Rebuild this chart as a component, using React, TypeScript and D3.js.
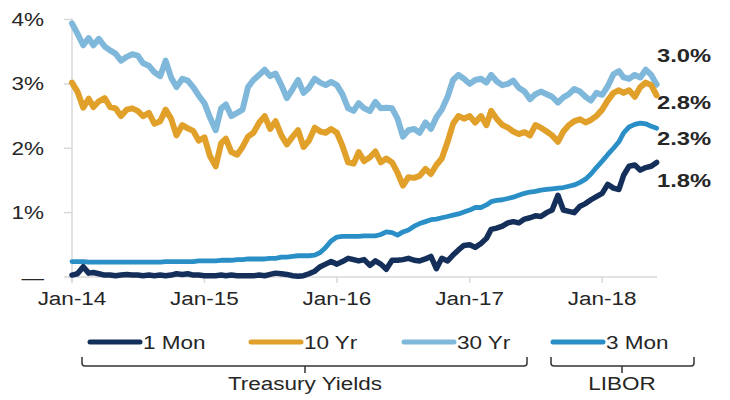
import * as d3 from "d3";

const W = 730;
const H = 400;
const M = { left: 72, right: 657, top: 19.5, bottom: 277 };
const FONT = "'Liberation Sans', Arial, sans-serif";
const STRETCH = 1.25; // source picture is stretched horizontally
const INK = "#262626";

// semi-monthly grid: 1st and 16th of every month, last point end of May 2018
const dates: Date[] = [];
for (let m = 0; m < 53; m++) {
  dates.push(new Date(2014, m, 1), new Date(2014, m, 16));
}
dates.push(new Date(2018, 4, 31));

const yr30 = [
  3.94, 3.78, 3.6, 3.71, 3.6, 3.7, 3.58, 3.52, 3.47, 3.36,
  3.42, 3.46, 3.44, 3.32, 3.28, 3.18, 3.12, 3.36, 3.1, 2.95,
  3.08, 3.05, 2.95, 2.82, 2.7, 2.48, 2.28, 2.62, 2.68, 2.5,
  2.55, 2.6, 2.95, 3.06, 3.14, 3.22, 3.12, 3.16, 2.98, 2.78,
  2.92, 3.06, 2.86, 2.94, 3.08, 3.02, 2.98, 3.03, 2.98, 2.84,
  2.62, 2.58, 2.7, 2.62, 2.58, 2.72, 2.62, 2.63, 2.62, 2.46,
  2.18, 2.28, 2.3, 2.24, 2.4, 2.3, 2.48, 2.6, 2.8, 3.06,
  3.14, 3.08, 3.0, 3.06, 3.08, 3.02, 3.14, 3.04, 2.98, 3.0,
  3.05, 2.94, 2.88, 2.76, 2.84, 2.88, 2.84, 2.8, 2.71, 2.79,
  2.84, 2.92, 2.88, 2.8, 2.74, 2.86, 2.83, 2.96, 3.15, 3.2,
  3.1, 3.08, 3.14, 3.1, 3.22, 3.14, 2.99,
];

const yr10 = [
  3.02, 2.88, 2.63, 2.77, 2.64, 2.73, 2.78, 2.64, 2.62, 2.5,
  2.6, 2.62, 2.58, 2.5, 2.55, 2.38, 2.42, 2.6, 2.46, 2.2,
  2.36, 2.31, 2.27, 2.12, 2.17, 1.88, 1.72, 2.08, 2.15, 1.94,
  1.9, 2.02, 2.18, 2.24, 2.4, 2.5, 2.3, 2.42, 2.2, 2.06,
  2.18, 2.28, 2.02, 2.12, 2.32, 2.26, 2.24, 2.3, 2.24, 2.04,
  1.78, 1.76, 1.94, 1.8, 1.86, 1.95, 1.78, 1.84, 1.78, 1.62,
  1.42, 1.55, 1.54, 1.57, 1.68, 1.6, 1.74, 1.84, 2.1, 2.38,
  2.5, 2.46, 2.5, 2.4, 2.5, 2.36, 2.58, 2.46, 2.36, 2.32,
  2.26, 2.22, 2.25, 2.2, 2.36, 2.32, 2.26, 2.2, 2.1, 2.26,
  2.36, 2.42, 2.45, 2.4, 2.44, 2.5, 2.6, 2.74, 2.86, 2.9,
  2.86, 2.9, 2.8, 2.95, 3.02, 2.98, 2.82,
];

const libor3m = [
  0.24, 0.24, 0.24, 0.23, 0.23, 0.23, 0.23, 0.23, 0.23, 0.23,
  0.23, 0.23, 0.23, 0.23, 0.23, 0.23, 0.23, 0.24, 0.24, 0.24,
  0.24, 0.24, 0.24, 0.25, 0.25, 0.25, 0.25, 0.26, 0.26, 0.26,
  0.27, 0.27, 0.28, 0.28, 0.28, 0.28, 0.29, 0.29, 0.31, 0.31,
  0.32, 0.33, 0.33, 0.33, 0.34, 0.38, 0.46, 0.56, 0.62, 0.63,
  0.63, 0.63, 0.63, 0.64, 0.64, 0.64, 0.66, 0.7, 0.69, 0.65,
  0.7, 0.73, 0.79, 0.83, 0.86, 0.89, 0.9, 0.92, 0.94, 0.96,
  0.98, 1.01, 1.04, 1.08, 1.08, 1.12, 1.17, 1.19, 1.2, 1.22,
  1.24, 1.27, 1.3, 1.32, 1.33, 1.35, 1.36, 1.37, 1.38, 1.39,
  1.41, 1.43, 1.47, 1.52, 1.6, 1.7, 1.8, 1.9, 2.0, 2.1,
  2.24, 2.33, 2.37, 2.39, 2.38, 2.34, 2.31,
];

const mon1 = [
  0.03, 0.05, 0.16, 0.06, 0.07, 0.05, 0.03, 0.03, 0.02, 0.03,
  0.04, 0.03, 0.03, 0.02, 0.03, 0.02, 0.03, 0.02, 0.03, 0.05,
  0.04, 0.05, 0.03, 0.03, 0.02, 0.02, 0.02, 0.03, 0.02, 0.03,
  0.02, 0.02, 0.02, 0.02, 0.03, 0.02, 0.04, 0.06, 0.05, 0.04,
  0.02, 0.01, 0.02, 0.05, 0.09, 0.16, 0.2, 0.24, 0.2, 0.24,
  0.29, 0.27, 0.25, 0.27, 0.18, 0.25, 0.2, 0.12, 0.26, 0.26,
  0.27, 0.29, 0.26, 0.25, 0.28, 0.32, 0.13, 0.29, 0.25, 0.34,
  0.42, 0.49, 0.5, 0.46, 0.52, 0.6, 0.74, 0.76, 0.79, 0.84,
  0.86, 0.84, 0.9, 0.92, 0.95, 0.94, 1.0, 1.04, 1.27, 1.04,
  1.02, 1.0, 1.1, 1.14, 1.2, 1.25, 1.3, 1.44, 1.38, 1.36,
  1.58, 1.72, 1.74, 1.66, 1.7, 1.72, 1.78,
];

const yTicks = [0, 1, 2, 3, 4];
const yTickLabels = ["—", "1%", "2%", "3%", "4%"];
const xTicks = [2014, 2015, 2016, 2017, 2018];
const xTickLabels = ["Jan-14", "Jan-15", "Jan-16", "Jan-17", "Jan-18"];
const endLabels = ["3.0%", "2.8%", "2.3%", "1.8%"];

const series = [
  { name: "30 Yr", values: yr30, color: "#7fb8da", width: 6 },
  { name: "10 Yr", values: yr10, color: "#e1a02a", width: 6 },
  { name: "3 Mon", values: libor3m, color: "#2a8fc6", width: 4.8 },
  { name: "1 Mon", values: mon1, color: "#14305a", width: 5.5 },
];

const legendOrder = ["1 Mon", "10 Yr", "30 Yr", "3 Mon"];
const legendLineX = [90, 251, 404, 553];

const T = ({ x, y, anchor = "start", size = 18, weight = "normal", children }: any) => (
  <text
    transform={`translate(${x},${y}) scale(${STRETCH},1)`}
    textAnchor={anchor}
    fontSize={size}
    fontWeight={weight}
    fontFamily={FONT}
    fill={INK}
  >
    {children}
  </text>
);

const bracket = (x1: number, x2: number, cx: number) => {
  const y0 = 357;
  const y1 = 366;
  return `M${x1},${y0} L${x1},${y1 - 3} Q${x1},${y1} ${x1 + 3},${y1} L${x2 - 3},${y1} Q${x2},${y1} ${x2},${y1 - 3} L${x2},${y0} M${cx},${y1} L${cx},373`;
};

export default function App() {
  const x = d3
    .scaleTime()
    .domain([new Date(2014, 0, 1), new Date(2018, 5, 1)])
    .range([M.left, M.right]);
  const y = d3.scaleLinear().domain([0, 4]).range([M.bottom, M.top]);

  const line = d3
    .line<number>()
    .x((_, i) => x(dates[i]))
    .y((v) => y(v))
    .curve(d3.curveLinear);

  return (
    <svg
      width={W}
      height={H}
      style={{ position: "absolute", left: 0, top: 0, background: "#fff" }}
    >
      {/* axes */}
      <g stroke="#d9d9d9" strokeWidth={1.5}>
        <line x1={M.left} x2={M.left} y1={M.top - 1} y2={M.bottom + 6} />
        <line x1={M.left} x2={M.right} y1={M.bottom} y2={M.bottom} />
        {yTicks.map((t) => (
          <line key={t} x1={M.left - 8} x2={M.left} y1={y(t)} y2={y(t)} />
        ))}
        {xTicks.map((t) => (
          <line key={t} x1={x(new Date(t, 0, 1))} x2={x(new Date(t, 0, 1))} y1={M.bottom} y2={M.bottom + 6} />
        ))}
      </g>
      {yTicks.map((t, i) => (
        <T key={t} x={44} y={y(t) + 6.5} anchor="end">
          {yTickLabels[i]}
        </T>
      ))}
      {xTicks.map((t, i) => (
        <T key={t} x={x(new Date(t, 0, 1))} y={305} anchor="middle">
          {xTickLabels[i]}
        </T>
      ))}

      {/* series */}
      {series.map((s) => (
        <path
          key={s.name}
          d={line(s.values) ?? ""}
          fill="none"
          stroke={s.color}
          strokeWidth={s.width}
          strokeLinejoin="round"
          strokeLinecap="round"
        />
      ))}

      {/* end labels */}
      {endLabels.map((l, i) => (
        <T key={l} x={657} y={[62, 109, 145, 187][i]} size={19} weight="bold">
          {l}
        </T>
      ))}

      {/* legend */}
      {legendOrder.map((name, i) => {
        const s = series.find((d) => d.name === name)!;
        const lx = legendLineX[i];
        return (
          <g key={name}>
            <line x1={lx} x2={lx + 50} y1={342} y2={342} stroke={s.color} strokeWidth={5} strokeLinecap="round" />
            <T x={lx + 53} y={348.5}>
              {name}
            </T>
          </g>
        );
      })}
      <path d={bracket(82, 527, 305)} fill="none" stroke="#333" strokeWidth={1.5} />
      <path d={bracket(551, 694, 622)} fill="none" stroke="#333" strokeWidth={1.5} />
      <T x={305} y={390} anchor="middle">
        Treasury Yields
      </T>
      <T x={622} y={390} anchor="middle">
        LIBOR
      </T>
    </svg>
  );
}
